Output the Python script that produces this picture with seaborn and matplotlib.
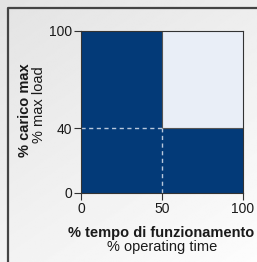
import numpy as np
import pandas as pd
import matplotlib.pyplot as plt
import seaborn as sns

# zone boundaries (% operating time, % max load)
time_edges = [0, 50, 100]
load_edges = [0, 40, 100]
# cell centres and whether the zone is allowed (1 = dark zone)
cell_time = [25, 75, 25, 75]
cell_load = [20, 20, 70, 70]
cell_on = [1, 1, 1, 0]
x_ticks = [0, 50, 100]
y_ticks = [0, 40, 100]

dark = "#033a78"
light = "#e9eef7"
ink = "#1a1a1a"

sns.set_style("white")
plt.rcParams["font.family"] = ["Liberation Sans", "DejaVu Sans"]

fig = plt.figure(figsize=(2.57, 2.62), dpi=100)

# grey gradient background with frame
bg = fig.add_axes([0, 0, 1, 1], zorder=-5)
grad = np.linspace(0, 1, 200)
gx, gy = np.meshgrid(grad, grad)
bg.imshow(0.89 + 0.1 * (0.4 * gx + 0.6 * gy), cmap="gray", vmin=0, vmax=1,
          extent=[0, 1, 0, 1], aspect="auto", origin="upper")
bg.plot([8 / 257, 8 / 257, 1.01], [-0.01, 1 - 8 / 262, 1 - 8 / 262],
        color="#444444", lw=1.6)
bg.set_xlim(0, 1)
bg.set_ylim(0, 1)
bg.axis("off")

ax = fig.add_axes([81 / 257, 69 / 262, 162 / 257, 162 / 262])
ax.set_facecolor(light)
df = pd.DataFrame({"time": cell_time, "load": cell_load, "on": cell_on})
sns.histplot(data=df, x="time", y="load", weights="on",
             bins=(time_edges, load_edges), cmap=sns.blend_palette([dark, dark], as_cmap=True),
             ax=ax, cbar=False)

# boundary of the light zone
ax.plot([50, 50, 100], [100, 40, 40], color="#555555", lw=0.8)
# dashed guide lines
ax.plot([0, 50], [40, 40], color="#b9c8dc", lw=1.0, ls=(0, (3, 2.5)))
ax.plot([50, 50], [0, 40], color="#b9c8dc", lw=1.0, ls=(0, (3, 2.5)))

ax.set_xlim(0, 100)
ax.set_ylim(0, 100)
ax.set_xticks(x_ticks)
ax.set_yticks(y_ticks)
ax.tick_params(axis="both", direction="out", length=5, width=0.8,
               color="#333333", labelcolor=ink, labelsize=10, pad=1.5,
               left=True, bottom=True)
for s in ax.spines.values():
    s.set_color("#333333")
    s.set_linewidth(0.8)
ax.set_xlabel("")
ax.set_ylabel("")

fig.text(161 / 257, 1 - 233 / 262, "% tempo di funzionamento", ha="center", va="center",
         fontsize=10.5, fontweight="bold", color=ink)
fig.text(162 / 257, 1 - 247 / 262, "% operating time", ha="center", va="center",
         fontsize=10.5, color=ink)
fig.text(25 / 257, 1 - 110 / 262, "% carico max", ha="center", va="center",
         fontsize=10.5, fontweight="bold", rotation=90, color=ink)
fig.text(39 / 257, 1 - 105 / 262, "% max load", ha="center", va="center",
         fontsize=10.5, rotation=90, color=ink)

fig.savefig("out.png", dpi=100)
